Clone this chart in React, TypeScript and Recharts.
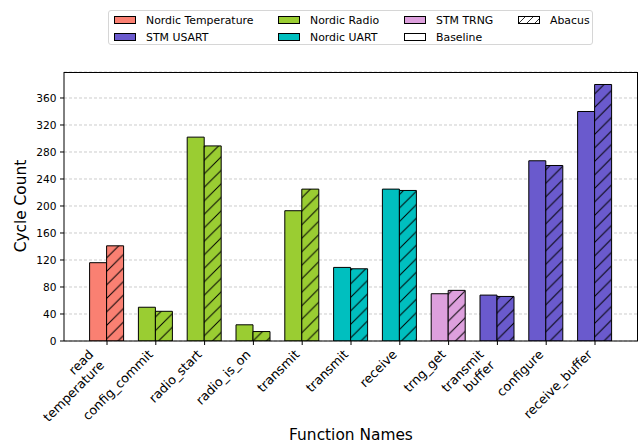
import React from "react";
import { BarChart, Bar, XAxis, YAxis, CartesianGrid, Cell } from "recharts";

// ---- data ----
const functionNames = [
  "read\ntemperature", "config_commit", "radio_start", "radio_is_on", "transmit",
  "transmit", "receive", "trng_get", "transmit\nbuffer", "configure", "receive_buffer",
];
const peripherals = [
  "Nordic Temperature", "Nordic Radio", "Nordic Radio", "Nordic Radio", "Nordic Radio",
  "Nordic UART", "Nordic UART", "STM TRNG", "STM USART", "STM USART", "STM USART",
];
const baselineCycles = [116, 50, 302, 24, 193, 109, 225, 70, 68, 267, 340];
const abacusCycles = [141, 44, 289, 14, 225, 107, 223, 75, 66, 260, 380];
const yTicks = [0, 40, 80, 120, 160, 200, 240, 280, 320, 360];

const PERIPHERAL_COLORS: Record<string, string> = {
  "Nordic Temperature": "#fa8072",
  "Nordic Radio": "#9acd32",
  "STM TRNG": "#dda0dd",
  "STM USART": "#6a5acd",
  "Nordic UART": "#00bfbf",
};

const FONT = "'DejaVu Sans', sans-serif";
const HATCH = 13.5;
const XTICK_FS = 12.7;

const data = functionNames.map((name, i) => ({
  name,
  peripheral: peripherals[i],
  baseline: baselineCycles[i],
  abacus: abacusCycles[i],
}));

const hatchId = (p: string) => "hatch-" + p.replace(/\s+/g, "-");

// rotated (45deg) tick label, right/top aligned under the tick like matplotlib
function XTick({ x, y, payload }: any) {
  const lines = String(payload.value).split("\n");
  const n = lines.length;
  const lh = XTICK_FS * 1.2;
  const asc = XTICK_FS * 0.76;
  const ax = x - 2;
  const ay = y + 3.4 + 0.707 * (asc + (n - 1) * lh);
  return (
    <g transform={`translate(${ax},${ay}) rotate(-45)`}>
      {lines.map((l, i) => (
        <text key={i} x={0} y={(i - (n - 1)) * lh} textAnchor="end"
          fontSize={XTICK_FS} fontFamily={FONT} fill="#000">
          {l}
        </text>
      ))}
    </g>
  );
}

type LegendItem = { label: string; fill: string; hatch?: boolean; x: number; row: number };

const legendItems: LegendItem[] = [
  { label: "Nordic Temperature", fill: PERIPHERAL_COLORS["Nordic Temperature"], x: 113, row: 0 },
  { label: "STM USART", fill: PERIPHERAL_COLORS["STM USART"], x: 113, row: 1 },
  { label: "Nordic Radio", fill: PERIPHERAL_COLORS["Nordic Radio"], x: 277, row: 0 },
  { label: "Nordic UART", fill: PERIPHERAL_COLORS["Nordic UART"], x: 277, row: 1 },
  { label: "STM TRNG", fill: PERIPHERAL_COLORS["STM TRNG"], x: 403, row: 0 },
  { label: "Baseline", fill: "#fff", x: 403, row: 1 },
  { label: "Abacus", fill: "#fff", hatch: true, x: 517, row: 0 },
];

function ChartLegend() {
  return (
    <div style={{
      position: "absolute", left: 108, top: 10, width: 485, height: 35,
      border: "1px solid #d6d6d6", borderRadius: 3, boxSizing: "border-box", background: "#fff",
    }}>
      {legendItems.map((it) => {
        const cy = it.row === 0 ? 9 : 26;
        return (
          <div key={it.label} style={{ position: "absolute", left: it.x - 108, top: cy - 7, height: 14, display: "flex", alignItems: "center" }}>
            <svg width={22} height={8} style={{ display: "block" }}>
              <defs>
                <pattern id={"lg-" + it.label} width={8} height={8} patternUnits="userSpaceOnUse">
                  <path d="M0,8 L8,0 M-2,2 L2,-2 M6,10 L10,6" stroke="#000" strokeWidth={0.8} />
                </pattern>
              </defs>
              <rect x={0.5} y={0.5} width={21} height={7} fill={it.fill} stroke="#000" strokeWidth={1} />
              {it.hatch && <rect x={0.5} y={0.5} width={21} height={7} fill={`url(#lg-${it.label})`} />}
            </svg>
            <span style={{ marginLeft: 10, fontFamily: FONT, fontSize: 10.9, color: "#000", whiteSpace: "nowrap" }}>
              {it.label}
            </span>
          </div>
        );
      })}
    </div>
  );
}

export default function App() {
  return (
    <div style={{ position: "absolute", left: 0, top: 0, width: 639, height: 445, background: "#fff" }}>
      <BarChart width={639} height={445} data={data}
        margin={{ top: 72, right: 1, left: 0, bottom: 0 }}
        barSize={17} barGap={0}>
        <defs>
          {Object.entries(PERIPHERAL_COLORS).map(([p, c]) => (
            <pattern key={p} id={hatchId(p)} width={HATCH} height={HATCH} patternUnits="userSpaceOnUse">
              <rect width={HATCH} height={HATCH} fill={c} />
              <path d={`M0,${HATCH} L${HATCH},0 M-3,3 L3,-3 M${HATCH - 3},${HATCH + 3} L${HATCH + 3},${HATCH - 3}`}
                stroke="#000" strokeWidth={1} />
            </pattern>
          ))}
        </defs>
        <CartesianGrid vertical={false} stroke="#cccccc" strokeDasharray="3 2" />
        <XAxis dataKey="name" type="category" height={104} interval={0}
          padding={{ left: 18.6, right: 18.6 }}
          tick={<XTick />} tickSize={4} tickMargin={0}
          tickLine={{ stroke: "#000" }} axisLine={{ stroke: "#000" }} />
        <YAxis width={64} domain={[0, 398.5]} ticks={yTicks} allowDataOverflow
          tickSize={4} tickMargin={3.5}
          tick={{ fontSize: 10.6, fontFamily: FONT, fill: "#000" }}
          tickLine={{ stroke: "#000" }} axisLine={{ stroke: "#000" }} />
        <Bar dataKey="baseline" stroke="#000" strokeWidth={1} isAnimationActive={false}>
          {data.map((d, i) => (
            <Cell key={i} fill={PERIPHERAL_COLORS[d.peripheral]} />
          ))}
        </Bar>
        <Bar dataKey="abacus" stroke="#000" strokeWidth={1} isAnimationActive={false}>
          {data.map((d, i) => (
            <Cell key={i} fill={`url(#${hatchId(d.peripheral)})`} />
          ))}
        </Bar>
      </BarChart>
      {/* top/right spines */}
      <div style={{
        position: "absolute", left: 64, top: 72, width: 574, height: 269,
        borderTop: "1px solid #000", borderRight: "1px solid #000", boxSizing: "border-box",
        pointerEvents: "none",
      }} />
      <ChartLegend />
      <div style={{
        position: "absolute", left: 21, top: 206, transform: "translate(-50%,-50%) rotate(-90deg)",
        fontFamily: FONT, fontSize: 15.4, color: "#000", whiteSpace: "nowrap",
      }}>Cycle Count</div>
      <div style={{
        position: "absolute", left: 351, top: 435, transform: "translate(-50%,-50%)",
        fontFamily: FONT, fontSize: 15.4, color: "#000", whiteSpace: "nowrap",
      }}>Function Names</div>
    </div>
  );
}
